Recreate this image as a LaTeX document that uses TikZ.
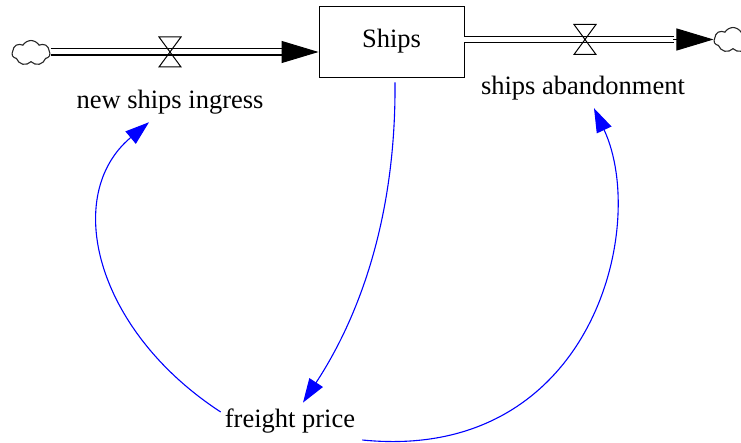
\documentclass[tikz,border=0pt]{standalone}
\usepackage{fontspec}
\setmainfont{Liberation Serif}
\usetikzlibrary{arrows.meta,shapes.symbols,calc}
\definecolor{SDblue}{RGB}{0,0,255}
\tikzset{
  sd stock/.style={
    draw=black,
    line width=0.9pt,
    minimum width=145pt,
    minimum height=71pt,
    inner sep=0pt
  },
  sd label/.style={font=\fontsize{26.5}{30}\selectfont,inner sep=2pt},
  sd cloud/.style={
    cloud,
    cloud puffs=7,
    cloud puff arc=120,
    aspect=1.5,
    draw=black!85,
    line width=1.1pt,
    minimum width=38pt,
    minimum height=25pt,
    inner sep=0pt
  },
  sd pipe/.style={draw=black,double=white,line width=1.3pt,double distance=5pt},
  sd pipehead/.style={-{Triangle[length=37pt,width=22pt]},line width=1pt},
  sd link/.style={-{Triangle[length=24pt,width=16pt]},draw=SDblue,line width=1.1pt},
  valve/.pic={
    \draw[line width=1pt] (-11,-15) -- (11,-15) -- (-11,15) -- (11,15) -- cycle;
  }
}

\begin{document}
\begin{tikzpicture}[x=1pt,y=-1pt]
  \useasboundingbox (0,0) rectangle (741,443);

  \node[sd stock,sd label] (ships) at (391.5,41.5) {Ships};
  \coordinate (valve-in) at (170,52);
  \coordinate (valve-out) at (585,39.5);
  \node[sd cloud] (source) at (31,53) {};
  \node[sd cloud] (sink) at (733,40) {};

  % inflow
  \draw[sd pipe,shorten >=36pt] (source.east |- valve-in) -- (ships.west |- valve-in);
  \draw[sd pipehead] ($(ships.west |- valve-in)+(-37,0)$) -- (ships.west |- valve-in);
  \pic at (valve-in) {valve};
  \node[sd label] (ingress) at (170,102) {new ships ingress};

  % outflow
  \draw[sd pipe,shorten >=39pt] (ships.east |- valve-out) -- (sink.west |- valve-out);
  \draw[sd pipehead] ($(sink.west |- valve-out)+(-40,0)$) -- (sink.west |- valve-out);
  \pic at (valve-out) {valve};
  \node[sd label] (abandon) at (583,88) {ships abandonment};

  \node[sd label] (price) at (290,421) {freight price};

  % links
  \draw[sd link] ($(ships.south)+(3.5,5)$)
    .. controls (396,210) and (363,311) .. ($(price.north)+(13,-4)$);
  \draw[sd link] ($(price.west)+(-2,-9)$)
    .. controls (95,330) and (62,195) .. ($(ingress.south)+(-21,6)$);
  \draw[sd link] ($(price.east)+(5,19)$)
    .. controls (592,463) and (649,226) .. ($(abandon.south)+(11,6)$);
\end{tikzpicture}
\end{document}
